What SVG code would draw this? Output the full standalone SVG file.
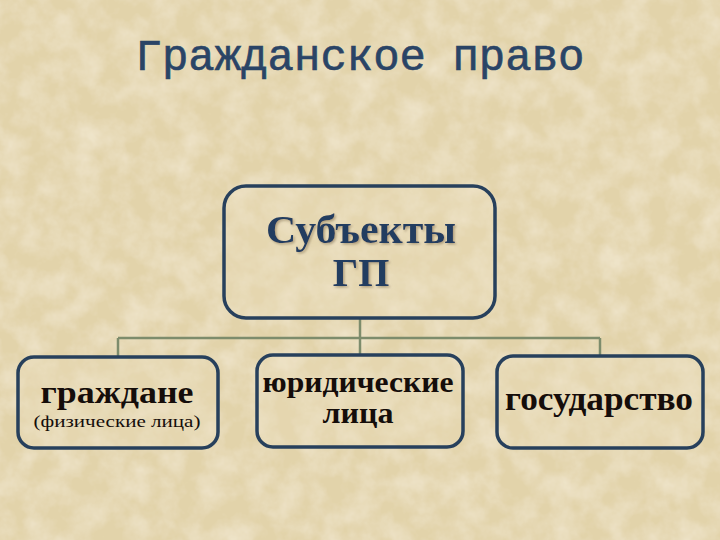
<svg xmlns="http://www.w3.org/2000/svg" width="720" height="540" viewBox="0 0 720 540">
<style>
.box{fill:#ecdfbc;fill-opacity:0.3;stroke:#27405c;stroke-width:3.5}
.conn{stroke:#7d8c6c;stroke-width:2.5;fill:none}
.lbl{font-family:"Liberation Serif","DejaVu Serif",serif;font-weight:bold;fill:#150d0a;text-anchor:middle}
.sub{font-family:"Liberation Serif","DejaVu Serif",serif;font-weight:normal;fill:#150d0a;text-anchor:middle}
.head{font-family:"Liberation Serif","DejaVu Serif",serif;font-weight:bold;fill:#243d60;text-anchor:middle;font-size:40px}
.title{font-family:"Liberation Mono",monospace;font-size:44px;font-weight:normal;fill:#2a4466;stroke:#2a4466;stroke-width:0.6;text-anchor:middle}
</style>
<defs>
<filter id="tex" x="0" y="0" width="100%" height="100%">
<feTurbulence type="fractalNoise" baseFrequency="0.04" numOctaves="4" seed="3" result="n"/>
<feColorMatrix in="n" type="matrix" values="0 0 0 0 0.94  0 0 0 0 0.88  0 0 0 0 0.74  0 0 0 -0.9 0.6" result="c"/>
<feComposite in="c" in2="SourceGraphic" operator="over"/>
</filter>
<filter id="sh" x="-10%" y="-10%" width="130%" height="130%">
<feDropShadow dx="1.5" dy="1.5" stdDeviation="0.8" flood-color="#a09070" flood-opacity="0.8"/>
</filter>
</defs>
<rect width="720" height="540" fill="#e2d3aa"/>
<rect width="720" height="540" fill="#e2d3aa" filter="url(#tex)"/>
<text class="title" x="360" y="70">Гражданское право</text>
<g id="connectors">
<line class="conn" x1="360" y1="318" x2="360" y2="355"/>
<line class="conn" x1="118" y1="338" x2="600" y2="338"/>
<line class="conn" x1="118" y1="338" x2="118" y2="356"/>
<line class="conn" x1="600" y1="338" x2="600" y2="355"/>
</g>
<g id="root">
<rect class="box" x="224" y="186" width="271" height="132" rx="22"/>
<g filter="url(#sh)">
<text class="head" x="361" y="243" textLength="190" lengthAdjust="spacingAndGlyphs">Субъекты</text>
<text class="head" x="361" y="286">ГП</text>
</g>
</g>
<g id="citizens">
<rect class="box" x="18" y="357" width="200" height="91" rx="16"/>
<text class="lbl" x="117" y="403" font-size="32" textLength="153" lengthAdjust="spacingAndGlyphs">граждане</text>
<text class="sub" x="117" y="427" font-size="17" textLength="167" lengthAdjust="spacingAndGlyphs">(физические лица)</text>
</g>
<g id="legal">
<rect class="box" x="257" y="355" width="206" height="92" rx="16"/>
<text class="lbl" x="358" y="392" font-size="29" textLength="191" lengthAdjust="spacingAndGlyphs">юридические</text>
<text class="lbl" x="358" y="423" font-size="29" textLength="71" lengthAdjust="spacingAndGlyphs">лица</text>
</g>
<g id="state">
<rect class="box" x="497" y="356" width="206" height="92" rx="16"/>
<text class="lbl" x="599" y="410" font-size="34" textLength="188" lengthAdjust="spacingAndGlyphs">государство</text>
</g>
</svg>
